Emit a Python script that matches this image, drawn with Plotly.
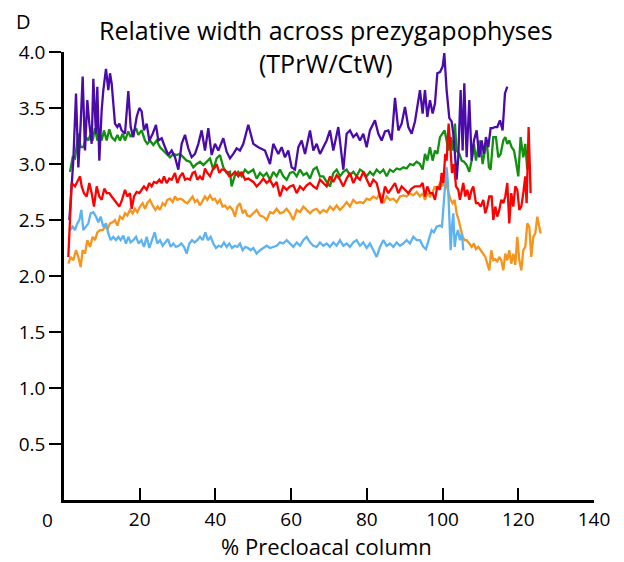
import plotly.graph_objects as go

# ---------------- data ----------------
purple_x = [1.41, 2.46, 3.17, 3.79, 4.40, 4.93, 5.55, 6.16, 6.69, 7.31,
            7.75, 8.45, 8.80, 9.33, 9.95, 10.39, 11.09, 11.71, 12.15, 12.59,
            13.47, 14.09, 14.61, 15.23, 16.11, 16.99, 17.61, 18.31, 19.19, 19.90,
            20.51, 21.13, 21.83, 22.54, 23.42, 24.30, 24.91, 25.80, 26.68, 27.56,
            28.44, 29.32, 30.20, 31.08, 31.96, 32.84, 33.72, 34.60, 35.48, 36.36,
            37.24, 38.12, 39.00, 39.88, 40.76, 42.08, 42.96, 43.84, 44.72, 45.60,
            46.48, 47.37, 48.68, 50.01, 51.33, 53.09, 54.41, 55.29, 56.61, 57.49,
            58.37, 59.25, 60.13, 61.02, 61.90, 62.78, 63.66, 64.98, 65.86, 66.74,
            67.62, 68.50, 69.38, 70.26, 71.14, 72.46, 73.78, 74.66, 75.54, 76.42,
            77.30, 78.18, 79.06, 79.94, 80.82, 82.14, 83.03, 83.91, 84.79, 85.67,
            86.55, 87.43, 88.31, 89.19, 90.07, 90.95, 91.83, 92.71, 94.03, 94.73,
            95.35, 95.97, 96.67, 97.38, 97.99, 98.61, 99.31, 100.02, 100.46, 101.07,
            101.78, 102.39, 102.83, 103.27, 103.71, 104.15, 104.77, 105.30, 105.74, 106.36,
            107.06, 107.68, 108.29, 109.00, 109.70, 110.32, 110.93, 111.46, 112.08, 112.69,
            113.22, 113.84, 114.45, 115.16, 115.86, 116.48, 117.10]
purple_y = [2.50, 3.03, 3.63, 2.97, 3.36, 3.78, 3.12, 3.57, 3.36, 3.18,
            3.76, 3.27, 3.69, 3.03, 3.48, 3.66, 3.85, 3.66, 3.81, 3.72,
            3.36, 3.33, 3.36, 3.30, 3.27, 3.65, 3.33, 3.24, 3.42, 3.50,
            3.47, 3.30, 3.36, 3.21, 3.27, 3.35, 3.21, 3.23, 3.15, 3.08,
            3.12, 3.06, 2.95, 3.18, 3.26, 3.14, 3.06, 3.09, 3.18, 3.30,
            3.12, 3.32, 3.08, 3.18, 3.12, 3.23, 3.11, 3.05, 3.09, 3.14,
            3.12, 3.18, 3.35, 3.18, 3.15, 3.12, 3.00, 3.18, 3.09, 3.15,
            3.06, 3.12, 2.97, 2.95, 3.15, 3.21, 3.09, 3.30, 3.12, 3.18,
            3.09, 3.15, 3.21, 3.30, 3.12, 3.33, 2.95, 3.27, 3.30, 3.24,
            3.27, 3.21, 3.27, 3.15, 3.30, 3.39, 3.27, 3.21, 3.29, 3.30,
            3.21, 3.59, 3.30, 3.36, 3.51, 3.33, 3.27, 3.38, 3.66, 3.45,
            3.66, 3.42, 3.57, 3.45, 3.54, 3.81, 3.82, 3.87, 3.99, 3.66,
            3.41, 3.38, 3.27, 3.09, 2.86, 3.06, 3.66, 3.12, 3.72, 3.06,
            3.57, 3.03, 3.21, 3.30, 3.06, 3.21, 3.09, 3.24, 3.15, 3.32,
            3.32, 3.33, 3.33, 3.39, 3.30, 3.63, 3.69]

green_x = [1.58, 2.29, 2.90, 3.79, 4.40, 5.11, 5.81, 6.43, 7.04, 7.57,
           8.19, 8.80, 9.33, 9.95, 10.56, 11.27, 11.97, 12.59, 13.47, 14.09,
           14.79, 15.49, 16.11, 16.99, 17.61, 18.31, 19.02, 19.63, 20.51, 21.39,
           22.01, 22.71, 23.59, 24.47, 25.36, 26.24, 27.12, 28.00, 28.88, 29.76,
           30.64, 31.52, 32.40, 33.28, 34.16, 35.04, 35.92, 36.80, 37.68, 38.56,
           39.44, 40.32, 41.20, 42.08, 42.96, 43.84, 44.28, 45.16, 46.04, 46.92,
           47.81, 48.68, 50.01, 50.89, 51.77, 52.65, 53.53, 54.41, 55.29, 56.17,
           57.05, 57.93, 58.81, 59.69, 60.58, 61.46, 62.34, 63.22, 64.10, 64.98,
           65.86, 66.74, 67.62, 68.50, 69.38, 70.26, 71.14, 72.02, 72.90, 73.78,
           74.66, 75.54, 76.42, 77.30, 78.18, 79.06, 79.94, 80.82, 81.70, 82.59,
           83.47, 84.35, 85.23, 86.11, 86.99, 87.87, 88.75, 89.63, 90.51, 91.39,
           92.27, 93.15, 94.03, 94.73, 95.35, 95.97, 96.67, 97.38, 97.99, 98.61,
           99.31, 100.02, 100.54, 101.07, 101.51, 102.13, 102.66, 103.27, 103.71, 104.42,
           105.04, 105.65, 106.36, 107.06, 107.68, 108.29, 108.82, 109.44, 109.88, 110.58,
           111.20, 111.64, 112.25, 112.69, 113.40, 114.10, 114.72, 115.34, 116.04, 116.57,
           117.10, 117.62, 118.24, 118.86, 119.39, 120.00, 120.62, 121.32, 121.85, 122.38]
green_y = [2.93, 3.06, 3.05, 3.27, 3.15, 3.15, 3.24, 3.21, 3.27, 3.21,
           3.32, 3.21, 3.29, 3.21, 3.30, 3.21, 3.31, 3.24, 3.21, 3.26,
           3.21, 3.27, 3.21, 3.29, 3.24, 3.29, 3.32, 3.26, 3.30, 3.21,
           3.18, 3.21, 3.17, 3.21, 3.15, 3.12, 3.09, 3.06, 3.09, 3.08,
           3.09, 3.06, 3.03, 3.02, 2.97, 3.00, 3.02, 2.99, 3.02, 3.05,
           2.95, 3.05, 3.08, 2.97, 2.92, 2.93, 2.80, 2.90, 2.93, 2.89,
           2.95, 2.92, 2.95, 2.87, 2.92, 2.89, 2.92, 2.86, 2.93, 2.89,
           2.95, 2.89, 2.86, 2.92, 2.93, 2.89, 2.95, 2.90, 2.92, 2.87,
           2.95, 2.97, 2.89, 2.89, 2.84, 2.80, 2.92, 2.95, 2.89, 2.93,
           2.95, 2.90, 2.93, 2.89, 2.95, 2.93, 2.89, 2.93, 2.90, 2.95,
           2.92, 2.95, 2.89, 2.95, 2.93, 2.96, 2.95, 2.97, 2.96, 3.00,
           2.99, 3.02, 3.00, 2.95, 3.09, 3.03, 3.15, 3.03, 3.12, 3.09,
           3.24, 3.27, 3.30, 3.21, 3.12, 3.24, 3.12, 3.36, 3.12, 3.09,
           3.03, 3.02, 2.99, 2.93, 3.03, 3.18, 3.03, 3.15, 3.21, 3.00,
           3.12, 3.21, 2.97, 2.95, 3.24, 3.24, 3.06, 3.09, 3.21, 3.24,
           3.18, 3.21, 3.15, 3.12, 3.02, 2.89, 3.24, 3.06, 3.18, 2.95]

red_x = [1.14, 2.02, 2.90, 3.52, 4.23, 4.67, 5.28, 5.99, 6.69, 7.31,
         7.92, 8.63, 9.33, 9.95, 10.65, 11.27, 11.97, 12.59, 13.21, 13.91,
         14.61, 15.32, 16.11, 16.73, 17.43, 17.87, 18.49, 19.19, 19.90, 20.51,
         21.13, 21.83, 22.54, 23.15, 23.77, 24.47, 25.18, 25.80, 26.41, 27.12,
         27.82, 28.44, 29.32, 29.93, 30.64, 31.34, 31.96, 32.57, 33.28, 33.98,
         34.60, 35.22, 35.92, 36.62, 37.24, 37.86, 38.56, 39.27, 39.88, 40.32,
         41.03, 41.64, 42.26, 42.96, 43.67, 44.28, 45.16, 46.04, 46.92, 47.81,
         48.68, 50.01, 50.89, 51.77, 52.65, 53.53, 54.41, 55.29, 56.17, 57.05,
         57.93, 58.81, 59.69, 60.58, 61.46, 62.34, 63.22, 64.10, 64.98, 65.86,
         66.74, 67.62, 68.50, 69.38, 70.26, 71.14, 72.02, 72.90, 73.78, 74.66,
         75.54, 76.42, 77.30, 78.18, 79.06, 79.94, 80.82, 81.70, 82.59, 83.91,
         84.79, 85.67, 86.55, 87.43, 88.31, 89.19, 90.07, 90.95, 91.83, 92.71,
         94.03, 94.73, 95.35, 95.97, 96.67, 97.38, 97.99, 98.61, 99.31, 99.75,
         100.19, 100.72, 101.07, 101.60, 102.13, 102.48, 103.01, 103.54, 104.15, 104.59,
         105.12, 105.47, 106.00, 106.53, 107.06, 107.68, 108.12, 108.82, 109.44, 110.05,
         110.76, 111.29, 111.81, 112.34, 112.96, 113.40, 113.93, 114.45, 114.98, 115.51,
         116.04, 116.57, 117.10, 117.62, 118.15, 118.68, 119.21, 119.74, 120.27, 120.79,
         121.32, 121.85, 122.20, 122.73, 123.26]
red_y = [2.17, 2.83, 2.80, 2.84, 2.89, 2.80, 2.74, 2.71, 2.83, 2.74,
         2.62, 2.80, 2.71, 2.68, 2.78, 2.74, 2.74, 2.71, 2.68, 2.65,
         2.62, 2.68, 2.77, 2.71, 2.74, 2.60, 2.71, 2.75, 2.74, 2.77,
         2.80, 2.77, 2.83, 2.80, 2.84, 2.83, 2.86, 2.83, 2.89, 2.83,
         2.87, 2.86, 2.92, 2.83, 2.89, 2.92, 2.86, 2.87, 2.86, 2.92,
         2.93, 2.86, 2.89, 2.86, 2.96, 2.92, 2.89, 2.95, 2.97, 3.00,
         2.92, 2.95, 2.95, 2.93, 2.89, 2.90, 2.93, 2.89, 2.93, 2.86,
         2.87, 2.84, 2.80, 2.83, 2.87, 2.83, 2.86, 2.80, 2.84, 2.71,
         2.80, 2.77, 2.80, 2.81, 2.74, 2.80, 2.77, 2.81, 2.83, 2.80,
         2.78, 2.86, 2.83, 2.80, 2.89, 2.84, 2.90, 2.86, 2.80, 2.87,
         2.92, 2.83, 2.89, 2.86, 2.93, 2.86, 2.80, 2.86, 2.83, 2.65,
         2.80, 2.74, 2.78, 2.83, 2.74, 2.80, 2.77, 2.74, 2.78, 2.80,
         2.80, 2.83, 2.71, 2.80, 2.74, 2.74, 2.68, 2.80, 2.77, 2.92,
         2.83, 3.09, 3.03, 3.36, 3.12, 2.92, 3.00, 2.80, 2.77, 2.68,
         2.77, 2.83, 2.71, 2.77, 2.68, 2.77, 2.80, 2.65, 2.65, 2.62,
         2.68, 2.56, 2.62, 2.71, 2.71, 2.50, 2.62, 2.53, 2.59, 2.68,
         2.65, 2.71, 2.83, 2.47, 2.74, 2.62, 2.80, 2.77, 2.59, 2.62,
         2.74, 2.89, 2.65, 3.33, 2.74]

orange_x = [1.14, 1.76, 2.46, 3.17, 3.79, 4.40, 4.93, 5.55, 6.16, 6.87,
            7.57, 8.19, 8.80, 9.51, 10.21, 10.83, 11.53, 12.15, 12.85, 13.47,
            14.09, 14.79, 15.49, 16.11, 16.73, 17.43, 18.14, 18.75, 19.37, 20.07,
            20.78, 21.39, 22.01, 22.71, 23.42, 24.12, 24.74, 25.36, 26.06, 26.68,
            27.29, 28.00, 28.70, 29.32, 29.93, 30.64, 31.34, 31.96, 32.57, 33.28,
            33.98, 34.60, 35.22, 35.92, 36.62, 37.24, 37.86, 38.56, 39.27, 39.88,
            40.50, 41.20, 41.91, 42.52, 43.14, 43.84, 44.55, 45.16, 45.78, 46.48,
            47.19, 47.81, 48.42, 49.13, 50.01, 50.89, 51.77, 52.65, 53.53, 54.41,
            55.29, 56.17, 57.05, 57.93, 58.81, 59.69, 60.58, 61.46, 62.34, 63.22,
            64.10, 64.98, 65.86, 66.74, 67.62, 68.50, 69.38, 70.26, 71.14, 72.02,
            72.90, 73.78, 74.66, 75.54, 76.42, 77.30, 78.18, 79.06, 79.94, 80.82,
            81.70, 82.59, 83.47, 84.35, 85.23, 86.11, 86.99, 87.87, 88.75, 89.63,
            90.51, 91.39, 92.27, 93.15, 94.03, 94.73, 95.35, 95.97, 96.67, 97.38,
            97.99, 98.61, 99.31, 100.02, 100.54, 101.07, 101.60, 102.13, 102.66, 103.19,
            103.71, 104.24, 104.77, 105.30, 105.83, 106.36, 107.06, 107.68, 108.29, 108.82,
            109.44, 110.05, 110.76, 111.29, 111.81, 112.34, 112.87, 113.40, 113.93, 114.45,
            114.98, 115.51, 116.04, 116.57, 117.10, 117.62, 118.15, 118.68, 119.21, 119.74,
            120.27, 120.79, 121.32, 121.85, 122.38, 122.91, 123.43, 123.96, 124.49, 125.02,
            125.55, 125.90]
orange_y = [2.11, 2.17, 2.14, 2.23, 2.17, 2.08, 2.23, 2.20, 2.32, 2.26,
            2.35, 2.32, 2.39, 2.41, 2.41, 2.44, 2.42, 2.47, 2.48, 2.50,
            2.45, 2.53, 2.51, 2.56, 2.54, 2.59, 2.56, 2.60, 2.57, 2.62,
            2.65, 2.60, 2.65, 2.68, 2.63, 2.59, 2.62, 2.59, 2.65, 2.63,
            2.68, 2.69, 2.66, 2.71, 2.68, 2.69, 2.68, 2.66, 2.65, 2.68,
            2.71, 2.66, 2.68, 2.63, 2.68, 2.71, 2.68, 2.72, 2.68, 2.69,
            2.65, 2.68, 2.62, 2.63, 2.60, 2.62, 2.59, 2.53, 2.62, 2.65,
            2.56, 2.59, 2.54, 2.53, 2.56, 2.59, 2.54, 2.53, 2.50, 2.57,
            2.56, 2.60, 2.56, 2.57, 2.60, 2.56, 2.50, 2.59, 2.57, 2.62,
            2.59, 2.56, 2.59, 2.60, 2.56, 2.59, 2.57, 2.62, 2.59, 2.63,
            2.59, 2.62, 2.66, 2.62, 2.68, 2.65, 2.66, 2.65, 2.69, 2.68,
            2.71, 2.69, 2.74, 2.65, 2.71, 2.68, 2.69, 2.66, 2.71, 2.72,
            2.71, 2.74, 2.72, 2.75, 2.71, 2.74, 2.68, 2.74, 2.71, 2.75,
            2.80, 2.77, 2.83, 2.80, 2.89, 2.80, 2.74, 2.68, 2.65, 2.68,
            2.56, 2.50, 2.41, 2.35, 2.32, 2.32, 2.29, 2.26, 2.29, 2.24,
            2.26, 2.23, 2.20, 2.17, 2.11, 2.05, 2.23, 2.14, 2.15, 2.13,
            2.17, 2.14, 2.05, 2.20, 2.14, 2.23, 2.11, 2.20, 2.10, 2.35,
            2.14, 2.05, 2.23, 2.26, 2.47, 2.44, 2.17, 2.35, 2.38, 2.53,
            2.44, 2.38]

blue_x = [1.58, 2.29, 2.90, 3.52, 4.05, 4.58, 5.11, 5.81, 6.43, 7.04,
          7.75, 8.45, 9.07, 9.68, 10.39, 11.09, 11.71, 12.33, 13.03, 13.73,
          14.35, 14.97, 15.67, 16.37, 16.99, 17.61, 18.31, 19.02, 19.72, 20.42,
          21.13, 21.83, 22.54, 23.24, 23.95, 24.65, 25.36, 26.06, 26.76, 27.47,
          28.17, 28.88, 29.58, 30.29, 30.99, 31.69, 32.40, 33.10, 33.81, 34.51,
          35.22, 35.92, 36.62, 37.33, 38.03, 38.74, 39.44, 40.14, 40.85, 41.55,
          42.26, 42.96, 43.67, 44.37, 45.08, 45.78, 46.48, 47.19, 47.89, 48.60,
          49.30, 50.01, 50.89, 51.77, 52.65, 53.53, 54.41, 55.29, 56.17, 57.05,
          57.93, 58.81, 59.69, 60.58, 61.46, 62.34, 63.22, 64.10, 64.98, 65.86,
          66.74, 67.62, 68.50, 69.38, 70.26, 71.14, 72.02, 72.90, 73.78, 74.66,
          75.54, 76.42, 77.30, 78.18, 79.06, 79.94, 80.82, 81.70, 82.59, 83.47,
          84.35, 85.23, 86.11, 86.99, 87.87, 88.75, 89.63, 90.51, 91.39, 92.27,
          93.15, 94.03, 94.91, 95.61, 96.23, 97.11, 97.73, 98.43, 99.31, 99.84,
          100.37, 100.72, 101.07, 101.42, 101.78, 102.13, 102.48, 102.83, 103.19, 103.54,
          104.07, 104.59, 105.12, 105.47]
blue_y = [2.41, 2.44, 2.41, 2.47, 2.50, 2.59, 2.41, 2.44, 2.47, 2.56,
          2.57, 2.53, 2.48, 2.53, 2.44, 2.47, 2.38, 2.32, 2.35, 2.32,
          2.35, 2.32, 2.36, 2.29, 2.35, 2.30, 2.32, 2.35, 2.29, 2.32,
          2.26, 2.35, 2.25, 2.32, 2.39, 2.29, 2.32, 2.27, 2.30, 2.33,
          2.26, 2.29, 2.26, 2.27, 2.29, 2.26, 2.20, 2.29, 2.32, 2.30,
          2.32, 2.35, 2.32, 2.39, 2.32, 2.35, 2.29, 2.25, 2.27, 2.26,
          2.30, 2.26, 2.29, 2.25, 2.27, 2.26, 2.29, 2.23, 2.26, 2.25,
          2.23, 2.25, 2.20, 2.23, 2.25, 2.27, 2.25, 2.26, 2.27, 2.30,
          2.29, 2.32, 2.29, 2.26, 2.30, 2.27, 2.32, 2.35, 2.30, 2.27,
          2.26, 2.30, 2.27, 2.29, 2.26, 2.30, 2.27, 2.32, 2.27, 2.29,
          2.26, 2.30, 2.32, 2.27, 2.30, 2.25, 2.29, 2.23, 2.17, 2.26,
          2.32, 2.27, 2.29, 2.26, 2.30, 2.27, 2.29, 2.32, 2.29, 2.35,
          2.32, 2.32, 2.26, 2.24, 2.32, 2.41, 2.39, 2.44, 2.45, 2.44,
          2.68, 2.82, 2.97, 2.83, 2.53, 2.23, 2.44, 2.56, 2.26, 2.35,
          2.41, 2.32, 2.38, 2.23]

x_tick_values = [20, 40, 60, 80, 100, 120, 140]
y_tick_values = [0.5, 1.0, 1.5, 2.0, 2.5, 3.0, 3.5, 4.0]
y_tick_labels = ["0.5", "1.0", "1.5", "2.0", "2.5", "3.0", "3.5", "4.0"]

series = [
    ("orange", orange_x, orange_y, "#F7941D"),
    ("blue", blue_x, blue_y, "#5DB3F2"),
    ("green", green_x, green_y, "#12900F"),
    ("purple", purple_x, purple_y, "#4A0BAA"),
    ("red", red_x, red_y, "#FF0000"),
]

FONT = "Open Sans"

fig = go.Figure()
for name, xs, ys, color in series:
    assert len(xs) == len(ys), (name, len(xs), len(ys))
    fig.add_trace(go.Scatter(x=xs, y=ys, mode="lines", name=name,
                             line=dict(color=color, width=2.3),
                             showlegend=False, hoverinfo="skip"))

fig.update_layout(
    width=624, height=562,
    margin=dict(l=64, r=30, t=52, b=62, pad=0),
    paper_bgcolor="white", plot_bgcolor="white",
    font=dict(family=FONT, color="black", size=19),
    xaxis=dict(range=[0, 140], tickvals=x_tick_values, ticks="inside",
               ticklen=12, tickwidth=2, tickcolor="black",
               showline=True, linewidth=2.5, linecolor="black",
               showgrid=False, zeroline=False,
               tickfont=dict(family=FONT, size=19, color="black")),
    yaxis=dict(range=[0, 4.0], tickvals=y_tick_values, ticktext=y_tick_labels,
               ticks="outside", ticklen=12, tickwidth=2, tickcolor="black",
               showline=True, linewidth=2.5, linecolor="black",
               showgrid=False, zeroline=False,
               tickfont=dict(family=FONT, size=19, color="black")),
    annotations=[
        dict(text="Relative width across prezygapophyses<br>(TPrW/CtW)",
             xref="paper", yref="paper", x=0.494, y=1.092,
             xanchor="center", yanchor="top", showarrow=False,
             font=dict(family=FONT, size=25, color="black")),
        dict(text="D", xref="paper", yref="paper", x=-0.0945, y=1.069,
             xanchor="left", yanchor="middle", showarrow=False,
             font=dict(family=FONT, size=20, color="black")),
        dict(text="0", xref="paper", yref="paper", x=-0.0302, y=-0.0446,
             xanchor="center", yanchor="middle", showarrow=False,
             font=dict(family=FONT, size=19, color="black")),
        dict(text="% Precloacal column", xref="paper", yref="paper",
             x=0.496, y=-0.103, xanchor="center", yanchor="middle",
             showarrow=False, font=dict(family=FONT, size=22, color="black")),
    ],
)

fig.write_html("out.html")
